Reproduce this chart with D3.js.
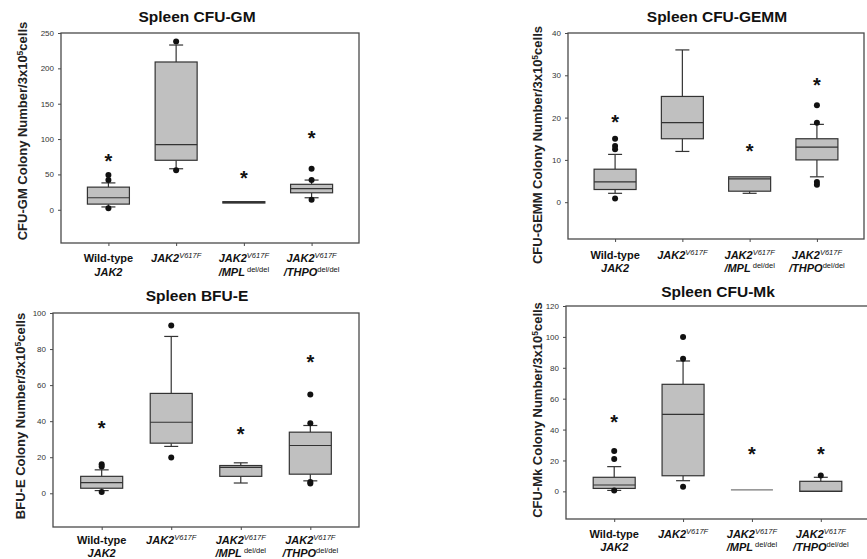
<!DOCTYPE html>
<html>
<head>
<meta charset="utf-8">
<script src="https://cdn.jsdelivr.net/npm/d3@7"></script>
<style>
  body { margin: 0; background: #fff; }
  text { font-family: "Liberation Sans", Arial, sans-serif; }
</style>
</head>
<body>
<svg id="chart" width="867" height="559"></svg>
<script>
// groups shown in every panel
const groups = ["wt", "v617f", "mpl", "thpo"];

// x tick labels: lines of [text, kind] pieces
const groupLabels = [
  [[["Wild-type", "b"]], [["JAK2", "bi"]]],
  [[["JAK2", "bi"], ["V617F", "sup"]]],
  [[["JAK2", "bi"], ["V617F", "sup"]], [["/MPL", "bi"], [" del/del", "supn"]]],
  [[["JAK2", "bi"], ["V617F", "sup"]], [["/THPO", "bi"], ["del/del", "supn"]]]
];

// box stats: [lower whisker, q1, median, q3, upper whisker]
const gmStats = [[4, 8, 17, 32, 38], [58, 70, 92, 209, 233], [10, 9.5, 10.5, 11.5, 11], [17, 24, 30, 36, 42]];
const gmOutliers = [[49, 42, 2], [238, 56], [], [58, 42, 14]];
const gmStars = [76, null, 51, 108];
const gmTicks = [0, 50, 100, 150, 200, 250];
const gmDomain = [-47, 250];

const gemmStats = [[2.1, 3, 4.8, 7.8, 11.3], [12, 15, 18.8, 25, 36], [2.1, 2.6, 5.5, 6, 6], [6, 10, 13, 15, 18.4]];
const gemmOutliers = [[15, 13.3, 12.5, 0.9], [], [], [22.9, 18.8, 4.8, 4.1]];
const gemmStars = [20, null, 13.2, 28.8];
const gemmTicks = [0, 10, 20, 30, 40];
const gemmDomain = [-8.7, 40];

const bfueStats = [[1.5, 2.8, 5.9, 9.4, 13], [26, 27.8, 39.4, 55.4, 87], [5.7, 9.4, 14.4, 15.4, 16.9], [6.9, 10.6, 26.5, 33.9, 37.6]];
const bfueOutliers = [[16.1, 14.8, 0.7], [93, 19.8], [], [54.8, 38.9, 5.4, 6.2]];
const bfueStars = [38.9, null, 35.7, 75.6];
const bfueTicks = [0, 20, 40, 60, 80, 100];
const bfueDomain = [-18.7, 100];

const mkStats = [[0.6, 1.9, 4.1, 9.1, 16], [6.9, 10.1, 49.8, 69.3, 84.4], [1, 1, 1, 1, 1], [0, 0, 0, 6.5, 9.1]];
const mkOutliers = [[26.1, 20.9, 0.6], [99.9, 85.9, 3], [], [10.3]];
const mkStars = [48, null, 27.2, 27.2];
const mkTicks = [0, 20, 40, 60, 80, 100, 120];
const mkDomain = [-17.9, 120];

const svg = d3.select("#chart");

const panels = [
  { title: "Spleen CFU-GM", yname: "CFU-GM", stats: gmStats, outliers: gmOutliers, stars: gmStars, ticks: gmTicks, domain: gmDomain,
    left: 61, top: 33, right: 359, bottom: 243, titleX: 197, titleY: 22, labelX: 22, labelY: 131, xl1: 19, xl2: 33 },
  { title: "Spleen CFU-GEMM", yname: "CFU-GEMM", stats: gemmStats, outliers: gemmOutliers, stars: gemmStars, ticks: gemmTicks, domain: gemmDomain,
    left: 568, top: 33, right: 864, bottom: 239, titleX: 717, titleY: 22, labelX: 537, labelY: 145, xl1: 20, xl2: 33 },
  { title: "Spleen BFU-E", yname: "BFU-E", stats: bfueStats, outliers: bfueOutliers, stars: bfueStars, ticks: bfueTicks, domain: bfueDomain,
    left: 53, top: 313, right: 359, bottom: 527, titleX: 197, titleY: 301, labelX: 20, labelY: 416, xl1: 17, xl2: 29.5 },
  { title: "Spleen CFU-Mk", yname: "CFU-Mk", stats: mkStats, outliers: mkOutliers, stars: mkStars, ticks: mkTicks, domain: mkDomain,
    left: 566, top: 306, right: 869, bottom: 519, titleX: 718, titleY: 297, labelX: 537, labelY: 410, xl1: 19, xl2: 31.5 }
];

const boxW = 42, capW = 14;

panels.forEach(function(p) {
  const g = svg.append("g");
  const x = d3.scalePoint().domain(groups).range([p.left, p.right]).padding(0.7);
  const y = d3.scaleLinear().domain(p.domain).range([p.bottom, p.top]);

  // frame
  g.append("rect")
    .attr("x", p.left).attr("y", p.top)
    .attr("width", p.right - p.left).attr("height", p.bottom - p.top)
    .attr("fill", "none").attr("stroke", "#4a4a4a").attr("stroke-width", 1.3);

  // y axis
  const ya = g.append("g")
    .attr("transform", "translate(" + p.left + ",0)")
    .call(d3.axisLeft(y).tickValues(p.ticks).tickSize(3).tickPadding(4));
  ya.select(".domain").remove();
  ya.attr("font-family", "Liberation Sans, Arial, sans-serif");
  ya.selectAll("text").style("font-size", "8px").attr("fill", "#333");
  ya.selectAll("line").attr("stroke", "#4a4a4a");

  // x axis ticks only
  const xa = g.append("g")
    .attr("transform", "translate(0," + p.bottom + ")")
    .call(d3.axisBottom(x).tickSize(3).tickFormat(""));
  xa.select(".domain").remove();
  xa.selectAll("line").attr("stroke", "#4a4a4a");

  // x labels
  groups.forEach(function(k, i) {
    groupLabels[i].forEach(function(line, li) {
      const t = g.append("text")
        .attr("x", x(k)).attr("y", p.bottom + (li === 0 ? p.xl1 : p.xl2))
        .attr("text-anchor", "middle")
        .style("font-size", "11px").attr("fill", "#111");
      line.forEach(function(seg) {
        const s = t.append("tspan").text(seg[0]);
        if (seg[1] === "b") s.attr("font-weight", "bold");
        if (seg[1] === "bi") s.attr("font-weight", "bold").attr("font-style", "italic");
        if (seg[1] === "sup") s.attr("dy", -4).style("font-size", "7.5px").attr("font-style", "italic");
        if (seg[1] === "supn") s.attr("dy", -4).style("font-size", "7.5px");
      });
    });
  });

  // title
  g.append("text")
    .attr("x", p.titleX).attr("y", p.titleY)
    .attr("text-anchor", "middle")
    .attr("font-weight", "bold").style("font-size", "15.5px").attr("fill", "#111")
    .text(p.title);

  // y label
  const yl = g.append("text")
    .attr("transform", "translate(" + p.labelX + "," + p.labelY + ") rotate(-90)")
    .attr("text-anchor", "middle").attr("dy", "0.35em")
    .attr("font-weight", "bold").style("font-size", "13px").attr("fill", "#222");
  yl.append("tspan").text(p.yname + " Colony Number/3x10");
  yl.append("tspan").attr("dy", -4).style("font-size", "8.5px").text("5");
  yl.append("tspan").attr("dy", 4).text("cells");

  // boxes
  groups.forEach(function(k, i) {
    const s = p.stats[i];
    const cx = x(k);
    const lo = s[0], q1 = s[1], med = s[2], q3 = s[3], hi = s[4];
    const stroke = "#333";
    if (hi > q3) {
      g.append("line").attr("x1", cx).attr("x2", cx).attr("y1", y(hi)).attr("y2", y(q3)).attr("stroke", stroke).attr("stroke-width", 1.2);
      g.append("line").attr("x1", cx - capW / 2).attr("x2", cx + capW / 2).attr("y1", y(hi)).attr("y2", y(hi)).attr("stroke", stroke).attr("stroke-width", 1.2);
    }
    if (lo < q1) {
      g.append("line").attr("x1", cx).attr("x2", cx).attr("y1", y(lo)).attr("y2", y(q1)).attr("stroke", stroke).attr("stroke-width", 1.2);
      g.append("line").attr("x1", cx - capW / 2).attr("x2", cx + capW / 2).attr("y1", y(lo)).attr("y2", y(lo)).attr("stroke", stroke).attr("stroke-width", 1.2);
    }
    g.append("rect")
      .attr("x", cx - boxW / 2).attr("y", y(q3))
      .attr("width", boxW).attr("height", y(q1) - y(q3))
      .attr("fill", "#c0c0c0").attr("stroke", q3 === q1 ? "#777" : stroke).attr("stroke-width", 1.2);
    g.append("line")
      .attr("x1", cx - boxW / 2).attr("x2", cx + boxW / 2)
      .attr("y1", y(med)).attr("y2", y(med))
      .attr("stroke", q3 === q1 ? "#777" : stroke).attr("stroke-width", 1.2);

    p.outliers[i].forEach(function(v) {
      g.append("circle").attr("cx", cx).attr("cy", y(v)).attr("r", 3).attr("fill", "#111");
    });

    if (p.stars[i] !== null) {
      g.append("text")
        .attr("x", cx).attr("y", y(p.stars[i]))
        .attr("dy", "0.58em")
        .attr("text-anchor", "middle")
        .attr("font-weight", "bold").style("font-size", "20px").attr("fill", "#111")
        .text("*");
    }
  });
});
</script>
</body>
</html>
